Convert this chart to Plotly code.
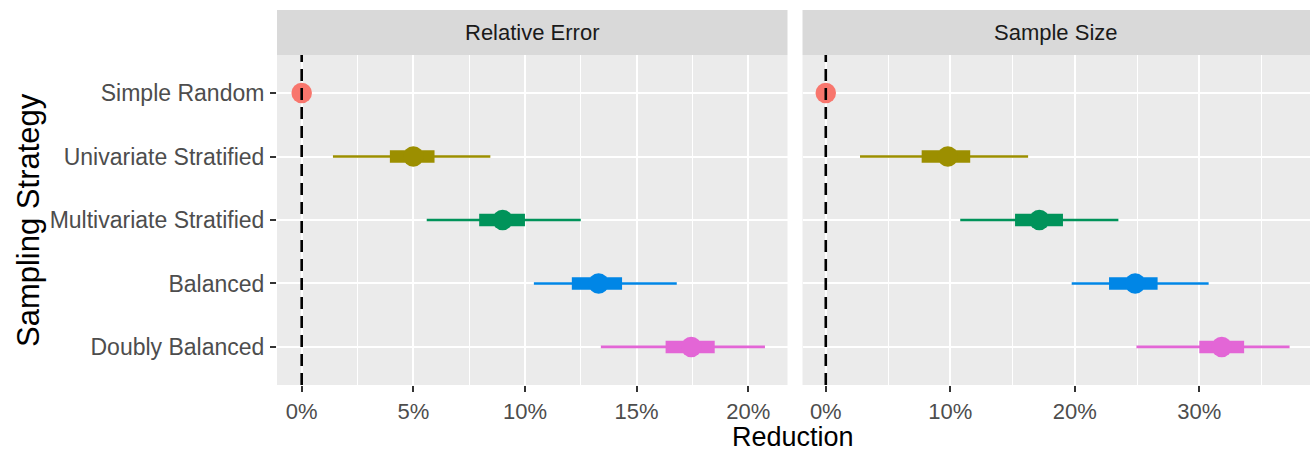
import plotly.graph_objects as go

W, H = 1310, 453

strategies = ["Simple Random", "Univariate Stratified", "Multivariate Stratified",
              "Balanced", "Doubly Balanced"]
colors = ["#F8766D", "#9C8F00", "#00935A", "#0086E6", "#E366D6"]

# Relative Error panel (% reduction)
re_point = [0.0, 5.0, 9.0, 13.3, 17.45]
re_inner_lo = [None, 3.95, 7.95, 12.1, 16.3]
re_inner_hi = [None, 5.95, 10.0, 14.35, 18.5]
re_outer_lo = [None, 1.4, 5.6, 10.4, 13.4]
re_outer_hi = [None, 8.45, 12.5, 16.8, 20.75]

# Sample Size panel (% reduction)
ss_point = [0.0, 9.8, 17.15, 24.85, 31.8]
ss_inner_lo = [None, 7.7, 15.2, 22.75, 30.0]
ss_inner_hi = [None, 11.6, 19.05, 26.65, 33.6]
ss_outer_lo = [None, 2.75, 10.8, 19.75, 24.95]
ss_outer_hi = [None, 16.25, 23.5, 30.75, 37.25]

panels = ["Relative Error", "Sample Size"]

FONT = "Liberation Sans, Arial, Helvetica, sans-serif"

fig = go.Figure()

def px_x(p):
    return p / W

def px_y(p):
    return 1 - p / H

panel_data = [
    ("x", "y", re_point, re_inner_lo, re_inner_hi, re_outer_lo, re_outer_hi),
    ("x2", "y2", ss_point, ss_inner_lo, ss_inner_hi, ss_outer_lo, ss_outer_hi),
]

for xa, ya, pt, ilo, ihi, olo, ohi in panel_data:
    for i, name in enumerate(strategies):
        yv = i + 1
        if olo[i] is not None:
            fig.add_trace(go.Scatter(x=[olo[i], ohi[i]], y=[yv, yv], mode="lines",
                                     line=dict(color=colors[i], width=2.6),
                                     xaxis=xa, yaxis=ya, showlegend=False, hoverinfo="skip"))
            fig.add_trace(go.Scatter(x=[ilo[i], ihi[i]], y=[yv, yv], mode="lines",
                                     line=dict(color=colors[i], width=12.5),
                                     xaxis=xa, yaxis=ya, showlegend=False, hoverinfo="skip"))
        fig.add_trace(go.Scatter(x=[pt[i]], y=[yv], mode="markers",
                                 marker=dict(color=colors[i], size=20.5, line=dict(width=0)),
                                 xaxis=xa, yaxis=ya, showlegend=False, name=name))

# dashed reference lines at 0
for xa, ya in [("x", "y"), ("x2", "y2")]:
    fig.add_shape(type="line", xref=xa, yref=ya + " domain", x0=0, x1=0, y0=0, y1=1,
                  line=dict(color="black", width=2.6, dash="12px,7px"), layer="above")

y_dom = [px_y(385), px_y(55)]
x1_dom = [px_x(277), px_x(787.5)]
x2_dom = [px_x(802.5), 1.0]

# strips
for dom, title in zip([x1_dom, x2_dom], panels):
    fig.add_shape(type="rect", xref="paper", yref="paper", x0=dom[0], x1=dom[1],
                  y0=px_y(55), y1=px_y(10), fillcolor="#D9D9D9", line=dict(width=0),
                  layer="below")
    fig.add_annotation(text=title, xref="paper", yref="paper", x=(dom[0] + dom[1]) / 2,
                       y=px_y(32.5), showarrow=False, xanchor="center", yanchor="middle",
                       font=dict(family=FONT, size=22, color="#1A1A1A"))

# axis titles
fig.add_annotation(text="Reduction", xref="paper", yref="paper", x=px_x(793), y=px_y(437),
                   showarrow=False, xanchor="center", yanchor="middle",
                   font=dict(family=FONT, size=27, color="black"))
fig.add_annotation(text="Sampling Strategy", xref="paper", yref="paper", x=px_x(28),
                   y=px_y(220), showarrow=False, textangle=-90, xanchor="center",
                   yanchor="middle", font=dict(family=FONT, size=31, color="black"))

common_x = dict(showgrid=True, gridcolor="white", gridwidth=1.6, zeroline=False,
                ticks="outside", ticklen=6, tickwidth=1.5, tickcolor="#333333",
                ticksuffix="%", showline=False, ticklabelstandoff=1,
                tickfont=dict(family=FONT, size=22, color="#4D4D4D"))

fig.update_layout(
    width=W, height=H,
    margin=dict(l=0, r=0, t=0, b=0),
    paper_bgcolor="white",
    plot_bgcolor="#EBEBEB",
    showlegend=False,
    xaxis=dict(domain=x1_dom, range=[-1.106, 21.76], tick0=0, dtick=5,
               minor=dict(dtick=2.5, tick0=0, showgrid=True, gridcolor="white",
                          gridwidth=0.8, ticks=""),
               anchor="y", **common_x),
    xaxis2=dict(domain=x2_dom, range=[-1.87, 38.89], tick0=0, dtick=10,
                minor=dict(dtick=5, tick0=0, showgrid=True, gridcolor="white",
                           gridwidth=0.8, ticks=""),
                anchor="y2", **common_x),
    yaxis=dict(domain=y_dom, range=[5.6, 0.4], tickvals=[1, 2, 3, 4, 5],
               ticktext=strategies, showgrid=True, gridcolor="white", gridwidth=1.6,
               zeroline=False, ticks="outside", ticklen=6, tickwidth=1.5,
               tickcolor="#333333", anchor="x", ticklabelstandoff=1,
               tickfont=dict(family=FONT, size=23, color="#4D4D4D")),
    yaxis2=dict(domain=y_dom, range=[5.6, 0.4], tickvals=[1, 2, 3, 4, 5],
                showticklabels=False, showgrid=True, gridcolor="white", gridwidth=1.6,
                zeroline=False, ticks="", anchor="x2", matches="y"),
)

fig.write_html("out.html")
